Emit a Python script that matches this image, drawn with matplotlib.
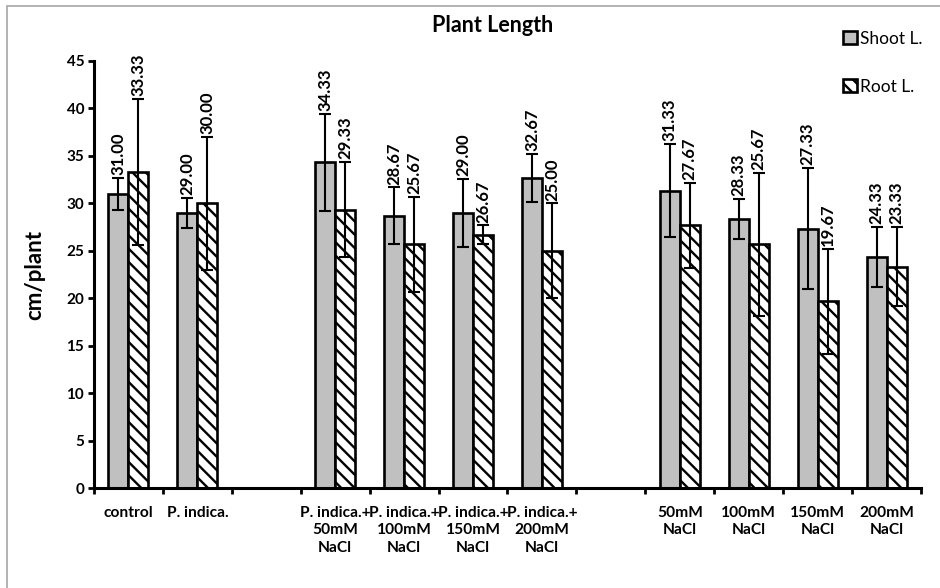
import numpy as np
import matplotlib
matplotlib.use("Agg")
import matplotlib.pyplot as plt
from matplotlib.patches import Rectangle

DPI = 80
S = 100 / DPI  # sizes below are given for 100 dpi and scaled

plt.rcParams['font.family'] = ['Lato', 'DejaVu Sans']
plt.rcParams['hatch.linewidth'] = 1.7 * S

categories = ["control", "P. indica.", "",
              "P. indica.+\n50mM\nNaCl", "P. indica.+\n100mM\nNaCl",
              "P. indica.+\n150mM\nNaCl", "P. indica.+\n200mM\nNaCl", "",
              "50mM\nNaCl", "100mM\nNaCl", "150mM\nNaCl", "200mM\nNaCl"]
shoot = [31.00, 29.00, np.nan, 34.33, 28.67, 29.00, 32.67, np.nan, 31.33, 28.33, 27.33, 24.33]
root = [33.33, 30.00, np.nan, 29.33, 25.67, 26.67, 25.00, np.nan, 27.67, 25.67, 19.67, 23.33]
shoot_err = [1.7, 1.6, np.nan, 5.1, 3.0, 3.6, 2.5, np.nan, 4.9, 2.1, 6.4, 3.2]
root_err = [7.7, 7.0, np.nan, 5.0, 5.0, 1.0, 5.0, np.nan, 4.5, 7.5, 5.5, 4.2]
series_names = ["Shoot L.", "Root L."]
title = "Plant Length"
ylabel = "cm/plant"

fig = plt.figure(figsize=(940 / DPI, 588 / DPI), dpi=DPI)
ax = fig.add_axes([94/940, 1-488/588, (921-94)/940, (488-61)/588])

x = np.arange(len(categories))
w = 0.29
ekw = dict(ecolor='black', elinewidth=1.5 * S, capsize=4.5 * S, capthick=1.5 * S)
b1 = ax.bar(x - w/2, shoot, w, color='#C0C0C0', edgecolor='black', linewidth=1.9 * S,
            yerr=shoot_err, error_kw=ekw, label=series_names[0], zorder=2)
b2 = ax.bar(x + w/2, root, w, color='white', edgecolor='black', linewidth=1.9 * S,
            hatch='\\\\', yerr=root_err, error_kw=ekw, label=series_names[1], zorder=2)

for xs, vals, errs in ((x - w/2, shoot, shoot_err), (x + w/2, root, root_err)):
    for xi, v, e in zip(xs, vals, errs):
        if np.isnan(v):
            continue
        ax.annotate(f"{v:.2f}", (xi, v + e), xytext=(0, 2 * S), textcoords='offset points',
                    rotation=90, ha='center', va='bottom', fontsize=12 * S, fontweight='bold')

ax.set_xlim(-0.5, len(categories) - 0.5)
ax.set_ylim(0, 45)
ax.set_yticks(np.arange(0, 46, 5))
ax.set_xticks(x)
ax.set_xticklabels(categories, fontsize=11.2 * S, fontweight='bold', linespacing=1.3)
ax.set_xticks(np.arange(-0.5, len(categories), 1), minor=True)
ax.tick_params(axis='x', which='major', length=0, pad=13 * S)
ax.tick_params(axis='x', which='minor', length=4 * S, width=2 * S, direction='out')
ax.tick_params(axis='y', length=4 * S, width=2 * S, direction='out', labelsize=11 * S, pad=3 * S)
for lab in ax.get_yticklabels():
    lab.set_fontweight('bold')

for s in ['top', 'right']:
    ax.spines[s].set_visible(False)
for s in ['left', 'bottom']:
    ax.spines[s].set_linewidth(2.2 * S)

ax.set_ylabel(ylabel, fontsize=16 * S, fontweight='bold')
ax.yaxis.set_label_coords((45-94)/827, 0.5)

fig.text(493/940, 1-25/588, title, ha='center', va='center', fontsize=15.5 * S, fontweight='bold')

leg = fig.legend(handles=[b1, b2], loc='upper left', bbox_to_anchor=(834/940, 1-22/588),
                 frameon=False, fontsize=12.5 * S, handlelength=0.8, handleheight=0.8,
                 handletextpad=0.2, labelspacing=1.85, borderpad=0)

fig.patches.append(Rectangle((7/940, -0.05), 1.2, 1 - 6/588 + 0.05, transform=fig.transFigure,
                             fill=False, edgecolor='#A6A6A6', linewidth=1.2 * S, zorder=-1))

fig.savefig("out.png", dpi=DPI)
